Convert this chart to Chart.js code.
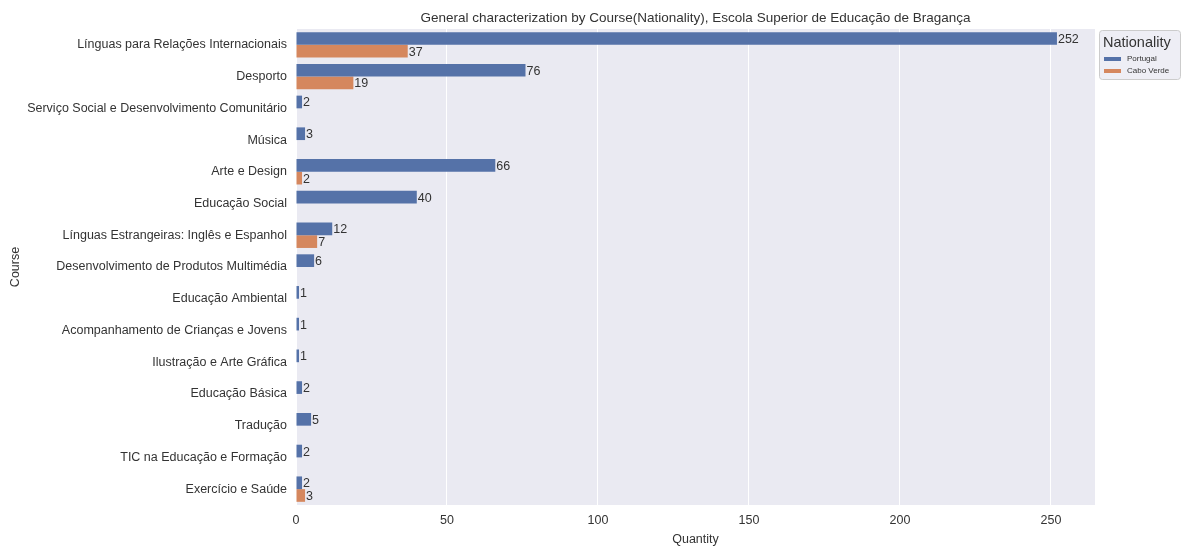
<!DOCTYPE html>
<html>
<head>
<meta charset="utf-8">
<script src="https://cdn.jsdelivr.net/npm/chart.js@4.4.1/dist/chart.umd.min.js"></script>
<style>
  html, body { margin: 0; padding: 0; background: #fff; }
  #wrap { width: 1185px; height: 547px; position: relative; }
</style>
</head>
<body>
<div id="wrap"><canvas id="courseChart"></canvas></div>
<script>
const courses = [
  "Línguas para Relações Internacionais",
  "Desporto",
  "Serviço Social e Desenvolvimento Comunitário",
  "Música",
  "Arte e Design",
  "Educação Social",
  "Línguas Estrangeiras: Inglês e Espanhol",
  "Desenvolvimento de Produtos Multimédia",
  "Educação Ambiental",
  "Acompanhamento de Crianças e Jovens",
  "Ilustração e Arte Gráfica",
  "Educação Básica",
  "Tradução",
  "TIC na Educação e Formação",
  "Exercício e Saúde",
];
const portugal = [252, 76, 2, 3, 66, 40, 12, 6, 1, 1, 1, 2, 5, 2, 2];
const caboVerde = [37, 19, null, null, 2, null, 7, null, null, null, null, null, null, null, 3];
const nationalities = ["Portugal", "Cabo Verde"];
const xTicks = [0, 50, 100, 150, 200, 250];

const FONT = "'Liberation Sans', Arial, sans-serif";
const TEXT = "#333333";
const BLUE = "#5572A8";
const ORANGE = "#D5875E";

const barLabels = {
  id: "barLabels",
  afterDatasetsDraw(chart) {
    const ctx = chart.ctx;
    ctx.save();
    ctx.font = "12.5px " + FONT;
    ctx.fillStyle = TEXT;
    ctx.textAlign = "left";
    ctx.textBaseline = "middle";
    chart.data.datasets.forEach((ds, i) => {
      chart.getDatasetMeta(i).data.forEach((bar, j) => {
        const v = ds.data[j];
        if (v == null) return;
        ctx.fillText(String(v), bar.x + 1, bar.y + 1);
      });
    });
    ctx.restore();
  },
};

const decorations = {
  id: "decorations",
  beforeDraw(chart) {
    const { ctx, chartArea: a } = chart;
    ctx.save();
    ctx.fillStyle = "#EAEAF2";
    ctx.fillRect(a.left, a.top, a.right - a.left, a.bottom - a.top);
    ctx.restore();
  },
  afterDraw(chart) {
    const { ctx, chartArea: a } = chart;
    ctx.save();
    // title
    ctx.font = "13.5px " + FONT;
    ctx.fillStyle = TEXT;
    ctx.textAlign = "center";
    ctx.textBaseline = "middle";
    ctx.fillText(
      "General characterization by Course(Nationality), Escola Superior de Educação de Bragança",
      (a.left + a.right) / 2, 18
    );
    // legend box
    const lx = a.right + 4, ly = 30, lw = 81, lh = 49;
    ctx.fillStyle = "rgba(234,234,242,0.8)";
    ctx.strokeStyle = "#cccccc";
    ctx.lineWidth = 1;
    ctx.beginPath();
    ctx.roundRect(lx + 0.5, ly + 0.5, lw, lh, 3);
    ctx.fill();
    ctx.stroke();
    ctx.fillStyle = TEXT;
    ctx.textAlign = "left";
    ctx.font = "14.5px " + FONT;
    ctx.fillText("Nationality", lx + 4, ly + 13);
    ctx.font = "8px " + FONT;
    [BLUE, ORANGE].forEach((c, i) => {
      const y = ly + 29 + i * 12;
      ctx.fillStyle = c;
      ctx.fillRect(lx + 5, y - 2, 17, 4);
      ctx.fillStyle = TEXT;
      ctx.fillText(nationalities[i], lx + 28, y);
    });
    ctx.restore();
  },
};

new Chart(document.getElementById("courseChart"), {
  type: "bar",
  data: {
    labels: courses,
    datasets: [
      {
        label: nationalities[0],
        data: portugal,
        backgroundColor: BLUE,
        borderWidth: 0,
        categoryPercentage: 0.8,
        barPercentage: 1,
      },
      {
        label: nationalities[1],
        data: caboVerde,
        backgroundColor: ORANGE,
        borderWidth: 0,
        categoryPercentage: 0.8,
        barPercentage: 1,
      },
    ],
  },
  options: {
    indexAxis: "y",
    responsive: true,
    maintainAspectRatio: false,
    animation: false,
    layout: { padding: { top: 29, right: 90, bottom: 0, left: 0 } },
    plugins: {
      legend: { display: false },
      tooltip: { enabled: false },
    },
    scales: {
      x: {
        min: 0,
        max: 264.6,
        afterBuildTicks: (scale) => {
          scale.ticks = xTicks.map((v) => ({ value: v }));
        },
        afterFit: (scale) => {
          scale.height = 42;
        },
        grid: { color: "#ffffff", lineWidth: 1, drawTicks: false },
        border: { display: false },
        ticks: {
          color: TEXT,
          padding: 8,
          font: { size: 12.5, family: FONT },
        },
        title: {
          display: true,
          text: "Quantity",
          color: TEXT,
          padding: { top: 1, bottom: 0 },
          font: { size: 12.5, family: FONT },
        },
      },
      y: {
        afterFit: (scale) => {
          scale.width = 296;
        },
        grid: { display: false, drawTicks: false },
        border: { display: false },
        ticks: {
          color: TEXT,
          padding: 9,
          autoSkip: false,
          font: { size: 12.5, family: FONT },
        },
        title: {
          display: true,
          text: "Course",
          color: TEXT,
          padding: { top: 8, bottom: 4 },
          font: { size: 12.5, family: FONT },
        },
      },
    },
  },
  plugins: [barLabels, decorations],
});
</script>
</body>
</html>
